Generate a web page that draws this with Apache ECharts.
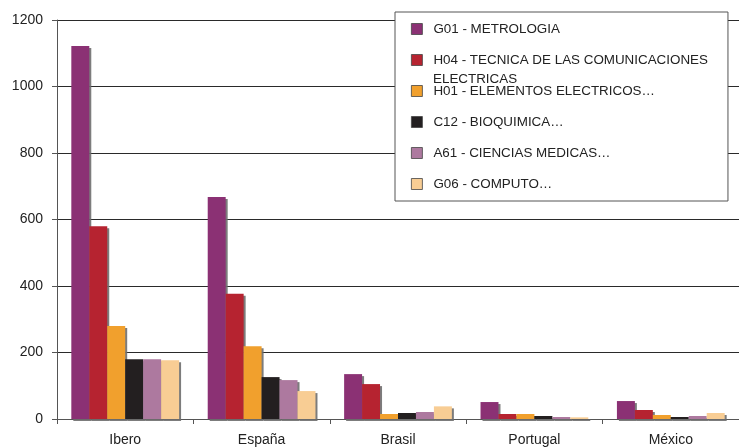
<!DOCTYPE html>
<html><head><meta charset="utf-8">
<script src="https://cdn.jsdelivr.net/npm/echarts@6/dist/echarts.min.js"></script>
<style>html,body{margin:0;padding:0;background:#fff}#c{width:739px;height:447px}</style>
</head><body><div id="c"></div>
<script>
const categories = ['Ibero', 'España', 'Brasil', 'Portugal', 'México'];
const seriesNames = [
  'G01 - METROLOGIA',
  'H04 - TECNICA DE LAS COMUNICACIONES',
  'H01 - ELEMENTOS ELECTRICOS…',
  'C12 - BIOQUIMICA…',
  'A61 - CIENCIAS MEDICAS…',
  'G06 - COMPUTO…'
];
const G01 = [1122, 668, 135, 51, 54];
const H04 = [580, 377, 105, 15, 27];
const H01 = [280, 219, 15, 15, 12];
const C12 = [180, 126, 18, 9, 6];
const A61 = [180, 117, 21, 6, 9];
const G06 = [177, 84, 38, 5, 18];
const colors = ['#8B3174', '#B62330', '#F1A02D', '#231F20', '#AD799F', '#F8CD94'];
const yTicks = [0, 200, 400, 600, 800, 1000, 1200];

const values = [G01, H04, H01, C12, A61, G06];
const chart = echarts.init(document.getElementById('c'));
const font = 'Liberation Sans, Arial, sans-serif';
chart.setOption({
  animation: false,
  color: colors,
  grid: { left: 57, right: -3, top: 20, bottom: 28, containLabel: false },
  legend: {
    orient: 'vertical', left: 395, top: 12,
    padding: [10, 20, 10, 16],
    itemWidth: 11, itemHeight: 11, itemGap: 17,
    borderColor: '#555', borderWidth: 1, backgroundColor: '#fff',
    icon: 'rect',
    itemStyle: { borderColor: '#444', borderWidth: 0.8, shadowBlur: 0, shadowOffsetX: 0, shadowOffsetY: 0, shadowColor: 'transparent' },
    textStyle: { fontFamily: font, fontSize: 13.4, color: '#222', lineHeight: 14, padding: [0, 0, 0, 6] },
    data: seriesNames
  },
  graphic: [{
    type: 'text', left: 433, top: 73, z: 100,
    style: { text: 'ELECTRICAS', font: '13.4px ' + font, fill: '#222' }
  }],
  xAxis: {
    type: 'category', data: categories,
    axisLine: { lineStyle: { color: '#555', width: 1 } },
    axisTick: { show: true, length: 5, lineStyle: { color: '#555' } },
    axisLabel: { fontFamily: font, fontSize: 14, color: '#222', margin: 14 }
  },
  yAxis: {
    type: 'value', min: 0, max: 1200, interval: 200,
    axisLine: { show: true, lineStyle: { color: '#555' } },
    axisTick: { show: true, length: 5, lineStyle: { color: '#555' } },
    axisLabel: { fontFamily: font, fontSize: 14, color: '#222', margin: 14,
      formatter: v => yTicks.includes(v) ? String(v) : '' },
    splitLine: { show: true, lineStyle: { color: '#2a2a2a', width: 1 } }
  },
  series: seriesNames.map((n, i) => ({
    name: n, type: 'bar', data: values[i],
    barGap: '0%', barCategoryGap: '21%',
    itemStyle: { color: colors[i], shadowColor: 'rgba(110,110,110,0.9)', shadowBlur: 0, shadowOffsetX: 2, shadowOffsetY: 2 }
  }))
});
</script></body></html>
